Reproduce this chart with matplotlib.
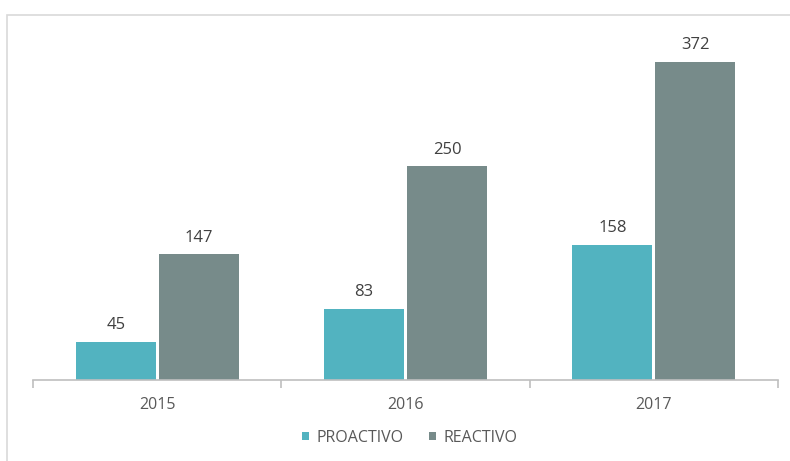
import numpy as np
import matplotlib.pyplot as plt
from matplotlib.patches import Rectangle

years = ['2015', '2016', '2017']
proactivo = [45, 83, 158]
reactivo = [147, 250, 372]

c_pro = '#52b3c0'
c_rea = '#778b8a'
txt = '#595959'

plt.rcParams['font.family'] = ['Open Sans', 'DejaVu Sans']

fig = plt.figure(figsize=(7.9, 4.61), dpi=100)
# light outer frame of the chart area
fig.patches.append(Rectangle((7/790, -0.1), 1.1, 1 - 15/461 + 0.1, transform=fig.transFigure,
                             fill=False, edgecolor='#d9d9d9', linewidth=1.2))

ax = fig.add_axes([33/790, 81/461, 745/790, 350/461])
x = np.arange(len(years))
w = 0.322
b1 = ax.bar(x - 0.167, proactivo, w, color=c_pro, label='PROACTIVO')
b2 = ax.bar(x + 0.167, reactivo, w, color=c_rea, label='REACTIVO')
for bars in (b1, b2):
    for r in bars:
        ax.text(r.get_x() + r.get_width()/2, r.get_height() + 10, f'{int(r.get_height())}',
                ha='center', va='bottom', fontsize=12, color='#404040')

ax.set_xlim(-0.5, 2.5)
ax.set_ylim(0, 350/0.855)
for s in ('top', 'right', 'left'):
    ax.spines[s].set_visible(False)
ax.spines['bottom'].set_color('#bfbfbf')
ax.spines['bottom'].set_linewidth(1.2)
ax.set_yticks([])
ax.set_xticks(x)
ax.set_xticklabels(years, fontsize=11.5, color=txt)
ax.tick_params(axis='x', length=0, pad=12)
ax.set_xticks([-0.5, 0.5, 1.5, 2.5], minor=True)
ax.tick_params(axis='x', which='minor', length=6, color='#bfbfbf', width=1.2)

fig.legend(handles=[b1, b2], loc='center', bbox_to_anchor=(410/790, 1 - 438/461), ncol=2,
           frameon=False, fontsize=11.5, labelcolor=txt, handlelength=0.4, handleheight=0.4,
           handletextpad=0.5, columnspacing=1.6)

fig.savefig('out.png', dpi=100)
